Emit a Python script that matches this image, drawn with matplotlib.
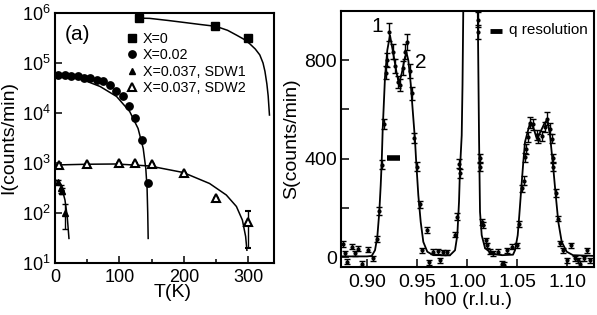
import matplotlib
matplotlib.use("Agg")
import matplotlib.pyplot as plt
from matplotlib.lines import Line2D
from matplotlib.ticker import FixedLocator, NullLocator, FormatStrFormatter

plt.rcParams['font.family'] = ['Liberation Sans', 'DejaVu Sans']
plt.rcParams['mathtext.fontset'] = 'custom'
plt.rcParams['mathtext.rm'] = 'Liberation Sans'

# ---------------- Left panel data ----------------
T_x0 = [131, 249, 299]
I_x0 = [7.8e5, 5.6e5, 3.1e5]

T_x02 = [5, 15, 25, 35, 45, 55, 65, 75, 85, 95, 105, 115, 125, 135, 145]
I_x02 = [5.75e4, 5.75e4, 5.6e4, 5.4e4, 5.1e4, 4.9e4, 4.6e4, 4.3e4, 3.55e4,
         2.8e4, 2.15e4, 1.4e4, 8.1e3, 2.9e3, 390]

T_sdw1 = [4, 9, 11, 16]
I_sdw1 = [420, 310, 280, 98]
E_sdw1 = [40, 60, 40, 50]

T_sdw2 = [6, 50, 100, 125, 150, 200, 250, 300]
I_sdw2 = [912, 955, 1014, 977, 955, 617, 195, 65]
E_sdw2 = [0, 0, 0, 0, 0, 0, 0, 45]

fitT_x0 = [128, 147, 175, 199, 225, 250, 268, 282, 293, 302, 311, 318, 323, 326, 329, 331, 333]
fitI_x0 = [7.9e5, 7.8e5, 7.1e5, 6.5e5, 5.9e5, 5.4e5, 4.5e5, 3.6e5, 3.0e5, 2.45e5,
           1.9e5, 1.45e5, 1.0e5, 6.8e4, 3.8e4, 2.2e4, 9.1e3]

fitT_x02 = [0, 20, 44, 70, 95.6, 116, 129, 137, 141, 143, 144, 144.7]
fitI_x02 = [5.75e4, 5.5e4, 4.57e4, 3.39e4, 2.14e4, 1.07e4, 4.9e3, 1.95e3, 776, 309, 100, 31]

fitT_sdw1 = [0, 5, 10, 15.5, 19, 21.7]
fitI_sdw1 = [468, 417, 339, 182, 85, 31]

fitT_sdw2 = [0, 50, 95.6, 147, 199, 240, 266, 281.7, 291, 296, 298]
fitI_sdw2 = [912, 944, 955, 871, 646, 389, 229, 135, 72, 34, 18]

# ---------------- Right panel data ----------------
h_data = [0.8757, 0.8780, 0.8797, 0.8847, 0.8880, 0.8913, 0.8947, 0.9013, 0.9063,
          0.9097, 0.9123, 0.9147, 0.9165, 0.9190, 0.9203, 0.9223, 0.9257, 0.9283,
          0.9310, 0.9327, 0.9357, 0.9383, 0.9400, 0.9427, 0.9450, 0.9470, 0.9503,
          0.9530, 0.9547, 0.9595, 0.9623, 0.9663, 0.9713, 0.9730, 0.9763, 0.9803,
          0.9880, 0.9897, 0.9923, 0.9925, 1.0107, 1.0110, 1.0127, 1.0130, 1.0153,
          1.0163, 1.0187, 1.0203, 1.0230, 1.0263, 1.0313, 1.0347, 1.0373, 1.0397,
          1.0447, 1.0497, 1.0520, 1.0553, 1.0570, 1.0577, 1.0590, 1.0613, 1.0630,
          1.0663, 1.0697, 1.0713, 1.0747, 1.0780, 1.0803, 1.0830, 1.0850, 1.0857,
          1.0863, 1.0887, 1.0907, 1.0930, 1.0957, 1.0997, 1.1040, 1.1080, 1.1113,
          1.1133, 1.1167, 1.1200, 1.1230]
s_data = [52, 15, -19, 42, 15, 35, -26, 31, -5,
          73, 187, 375, 540, 750, 800, 915, 835, 775,
          712, 700, 770, 835, 875, 755, 665, 485, 367,
          215, 28, 112, -20, 22, 24, -12, 19, 19,
          92, 164, 380, 340, 965, 915, 401, 367, 143,
          130, 69, 49, 22, 15, 22, -26, -30, 28,
          42, 49, 135, 280, 310, 405, 440, 489, 547,
          540, 495, 482, 491, 529, 563, 522, 482, 401,
          367, 260, 157, 56, 28, -12, 49, -5, -12,
          -26, -5, 28, -12]
s_err = [12, 10, 10, 10, 10, 10, 10, 10, 10,
         12, 15, 18, 20, 25, 28, 35, 30, 28,
         25, 25, 28, 30, 32, 28, 25, 20, 18,
         15, 10, 12, 10, 10, 10, 10, 10, 10,
         12, 15, 18, 18, 30, 30, 18, 18, 12,
         12, 10, 10, 10, 10, 10, 10, 10, 10,
         10, 10, 12, 15, 18, 18, 20, 20, 22,
         22, 20, 20, 20, 22, 25, 22, 20, 18,
         18, 15, 12, 10, 10, 10, 10, 10, 10,
         10, 10, 10, 10]

h_fit = [0.874, 0.900, 0.9047, 0.908, 0.9103, 0.9123, 0.9137, 0.9147, 0.9157, 0.918,
         0.9203, 0.923, 0.9263, 0.9297, 0.932, 0.9347, 0.938, 0.9397, 0.9413, 0.9437,
         0.9457, 0.948, 0.949, 0.9513, 0.9537, 0.9563, 0.9603, 0.9663, 0.983, 0.988,
         0.9903, 0.992, 0.993, 0.9947, 0.9955, 0.9965, 1.003, 1.0105, 1.012, 1.013,
         1.0147, 1.018, 1.0247, 1.035, 1.046, 1.048, 1.0507, 1.0523, 1.054, 1.0563,
         1.058, 1.063, 1.0665, 1.0697, 1.073, 1.077, 1.0803, 1.083, 1.0863, 1.0887,
         1.0913, 1.0947, 1.0997, 1.106, 1.127]
s_fit = [3, 3, 5, 28, 82, 184, 292, 387, 520, 732,
         841, 901, 827, 746, 705, 746, 813, 827, 800, 705,
         597, 475, 400, 252, 143, 62, 22, 8, 8, 28,
         89, 225, 360, 495, 700, 1100, 3000, 1100, 495, 184,
         89, 37, 14, 8, 10, 28, 89, 171, 265, 387,
         468, 545, 525, 482, 505, 540, 560, 495, 360, 252,
         143, 62, 22, 8, 5]

res_h = [0.9203, 0.9330]
res_s = [403, 403]
leg_h = [1.0230, 1.0347]
leg_s = [920, 920]

# ---------------- Figure ----------------
fig = plt.figure(figsize=(5.97, 3.15), dpi=100)
axL = fig.add_axes([0.0921, 0.1651, 0.3668, 0.7937])
axR = fig.add_axes([0.5712, 0.1524, 0.4238, 0.8127])

for ax in (axL, axR):
    for sp in ax.spines.values():
        sp.set_linewidth(1.5)

# Left panel
lw_fit = 1.1
axL.plot(fitT_x0, fitI_x0, color='black', lw=lw_fit)
axL.plot(fitT_x02, fitI_x02, color='black', lw=lw_fit)
axL.plot(fitT_sdw1, fitI_sdw1, color='black', lw=lw_fit)
axL.plot(fitT_sdw2, fitI_sdw2, color='black', lw=lw_fit)

axL.plot(T_x0, I_x0, 's', color='black', ms=5.5, zorder=3)
axL.plot(T_x02, I_x02, 'o', color='black', ms=5.3, zorder=3)
axL.errorbar(T_sdw1, I_sdw1, yerr=E_sdw1, fmt='^', color='black', ms=4.5,
             capsize=2.2, elinewidth=1, capthick=1, zorder=3)
axL.errorbar(T_sdw2, I_sdw2, yerr=E_sdw2, fmt='^', color='black', mfc='white',
             mec='black', mew=1.5, ms=6, capsize=2.2, elinewidth=1, capthick=1, zorder=3)

axL.set_yscale('log')
axL.set_ylim(10, 1e6)
axL.set_xlim(0, 340)
axL.xaxis.set_major_locator(FixedLocator([0, 100, 200, 300]))
axL.xaxis.set_minor_locator(FixedLocator([50, 150, 250]))
axL.yaxis.set_minor_locator(NullLocator())
axL.tick_params(axis='both', which='both', direction='in', labelsize=13, width=1.1)
axL.tick_params(axis='x', which='major', length=5, pad=4)
axL.tick_params(axis='x', which='minor', length=3)
axL.tick_params(axis='y', which='major', length=5, pad=3)
axL.set_xlabel('T(K)', fontsize=14)
axL.set_ylabel('I(counts/min)', fontsize=14)
axL.xaxis.set_label_coords(0.535, -0.085)
axL.yaxis.set_label_coords(-0.172, 0.5)
axL.text(0.045, 0.912, '(a)', transform=axL.transAxes, fontsize=15, ha='left', va='center')

handles = [
    Line2D([], [], ls='none', marker='s', color='black', ms=5.5),
    Line2D([], [], ls='none', marker='o', color='black', ms=5.3),
    Line2D([], [], ls='none', marker='^', color='black', ms=4.5),
    Line2D([], [], ls='none', marker='^', color='black', mfc='white', mew=1.5, ms=6),
]
labels = ['X=0', 'X=0.02', 'X=0.037, SDW1', 'X=0.037, SDW2']
axL.legend(handles, labels, loc='upper left', bbox_to_anchor=(0.32, 0.925),
           frameon=False, fontsize=10.3, handlelength=1.0, handletextpad=0.25,
           labelspacing=0.17, borderpad=0, borderaxespad=0)

# Right panel
axR.plot(h_fit, s_fit, color='black', lw=1.3)
axR.errorbar(h_data, s_data, yerr=s_err, fmt='o', color='black', ms=2,
             capsize=2.2, elinewidth=1, capthick=1)
axR.plot(res_h, res_s, color='black', lw=4, solid_capstyle='butt')
axR.plot(leg_h, leg_s, color='black', lw=3.5, solid_capstyle='butt')
axR.text(1.042, 922, 'q resolution', fontsize=11, ha='left', va='center')
axR.text(0.9097, 935, '1', fontsize=15, ha='center', va='center')
axR.text(0.9538, 790, '2', fontsize=15, ha='center', va='center')

axR.set_xlim(0.874, 1.127)
axR.set_ylim(-40, 1000)
axR.xaxis.set_major_locator(FixedLocator([0.90, 0.95, 1.00, 1.05, 1.10]))
axR.xaxis.set_major_formatter(FormatStrFormatter('%.2f'))
axR.yaxis.set_major_locator(FixedLocator([0, 400, 800]))
axR.yaxis.set_minor_locator(FixedLocator([200, 600]))
axR.tick_params(axis='both', which='both', direction='in', labelsize=14, width=1.1, length=6)
axR.tick_params(axis='x', which='major', pad=5.3)
axR.tick_params(axis='y', which='major', pad=3)
axR.set_xlabel('h00 (r.l.u.)', fontsize=14)
axR.set_ylabel('S(counts/min)', fontsize=14)
axR.xaxis.set_label_coords(0.5, -0.098)
axR.yaxis.set_label_coords(-0.162, 0.5)

fig.savefig('out.png', dpi=100)
